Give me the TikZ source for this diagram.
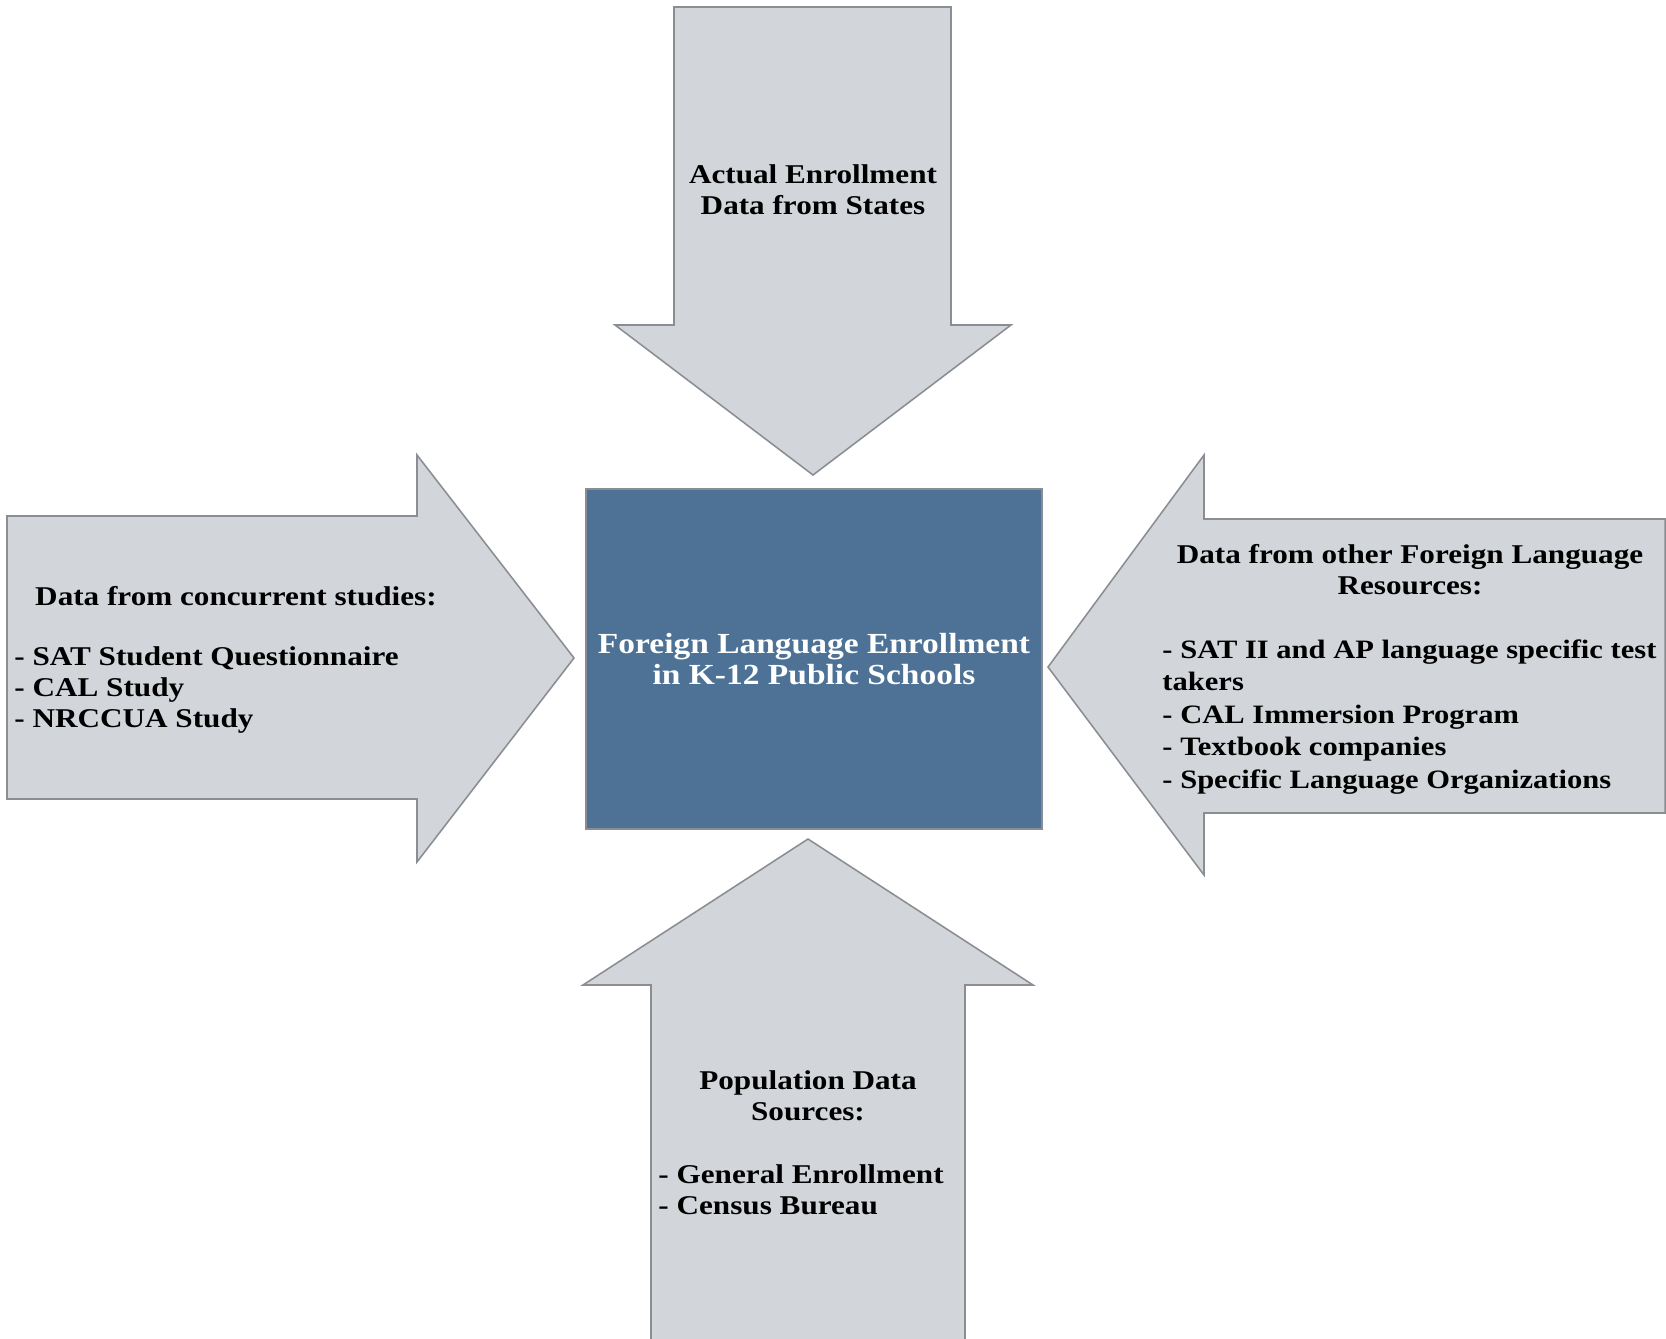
\documentclass[tikz,border=0pt]{standalone}
\usepackage{fontspec}
\setmainfont{Liberation Serif}[FakeStretch=1.15]
\usepackage{tikz}

\definecolor{arrowgray}{RGB}{210,214,219}
\definecolor{edgegray}{RGB}{138,142,147}
\definecolor{boxblue}{RGB}{77,114,150}

\begin{document}
\begin{tikzpicture}[x=0.45pt,y=0.45pt,yscale=-1,xscale=1,
  blockarrow/.style={draw=edgegray,fill=arrowgray,line width=0.7pt,line join=miter},
  srctext/.style={inner sep=0pt,font=\fontsize{12.2}{13.95}\selectfont\bfseries},
  targetbox/.style={draw=edgegray,fill=boxblue,line width=0.7pt,minimum width=205.2pt,minimum height=153pt,text=white,align=center,font=\fontsize{13.1}{14.3}\selectfont\bfseries}]
\useasboundingbox (0,0) rectangle (1666,1339);

%Shape: Down Arrow [top]
\draw [blockarrow] (674,7) -- (951,7) -- (951,325) -- (1011,325) -- (813,475) -- (615,325) -- (674,325) -- cycle ;
%Shape: Right Arrow [left]
\draw [blockarrow] (7,516) -- (417,516) -- (417,455) -- (574,658) -- (417,862) -- (417,799) -- (7,799) -- cycle ;
%Shape: Left Arrow [right]
\draw [blockarrow] (1665,519) -- (1204,519) -- (1204,455) -- (1048,667) -- (1204,875) -- (1204,813) -- (1665,813) -- cycle ;
%Shape: Up Arrow [bottom]
\draw [blockarrow] (651,1345) -- (651,985) -- (583,985) -- (808,839) -- (1033,985) -- (965,985) -- (965,1345) -- cycle ;

%Shape: Rectangle [target]
\node [targetbox] (target) at (814,659) {Foreign Language Enrollment\\in K-12 Public Schools};

% Text Node
\node [srctext,align=center] (statesrc) at (813,190) {Actual Enrollment\\Data from States};
% Text Node
\node [srctext] (studyhead) at (236,596) {Data from concurrent studies:};
\node [srctext,anchor=west,align=left] (studylist) at (14,690) {- SAT Student Questionnaire\\- CAL Study\\- NRCCUA Study};
% Text Node
\node [srctext,align=center] (otherhead) at (1410,570) {Data from other Foreign Language\\Resources:};
\node [srctext,anchor=west,align=left,font=\fontsize{11.95}{14.6}\selectfont\bfseries] (otherlist) at (1162,717) {- SAT II and AP language specific test\\takers\\- CAL Immersion Program\\- Textbook companies\\- Specific Language Organizations};
% Text Node
\node [srctext,align=center] (pophead) at (808,1096) {Population Data\\Sources:};
\node [srctext,anchor=west,align=left] (poplist) at (658,1190) {- General Enrollment\\- Census Bureau};

\end{tikzpicture}
\end{document}
